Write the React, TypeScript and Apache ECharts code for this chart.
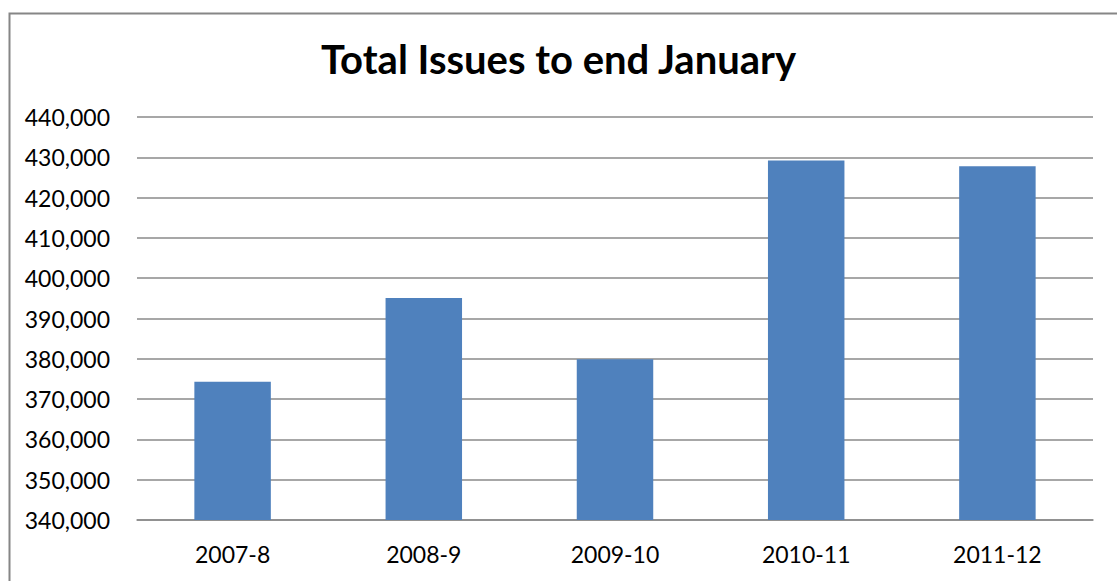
import React, { useEffect, useRef } from "react";
import * as echarts from "echarts";

const categories = ["2007-8", "2008-9", "2009-10", "2010-11", "2011-12"];
const totalIssues = [374300, 395100, 379900, 429200, 427750];
const yMin = 340000;
const yMax = 440000;
const yStep = 10000;
const titleText = "Total Issues to end January";

export default function App() {
  const ref = useRef<HTMLDivElement>(null);
  useEffect(() => {
    if (!ref.current) return;
    const chart = echarts.init(ref.current, undefined, { renderer: "svg" });
    chart.setOption({
      animation: false,
      backgroundColor: "#ffffff",
      textStyle: { fontFamily: "Lato" },
      graphic: [
        {
          type: "rect",
          left: 7,
          top: 11,
          shape: { x: 0, y: 0, width: 1200, height: 700 },
          style: { fill: "none", stroke: "#868686", lineWidth: 2 },
          silent: true,
          z: -1,
        },
      ],
      title: {
        text: titleText,
        left: "center",
        top: 34,
        textStyle: { fontFamily: "Lato", fontWeight: "bold", fontSize: 40, color: "#000000" },
      },
      grid: { left: 137, right: 24, top: 117, bottom: 61 },
      xAxis: {
        type: "category",
        data: categories,
        axisLine: { show: true, lineStyle: { color: "#8a8a8a", width: 1.5 } },
        axisTick: { show: false },
        axisLabel: { color: "#000000", fontSize: 23, margin: 22, fontFamily: "Lato" },
      },
      yAxis: {
        type: "value",
        min: yMin,
        max: yMax,
        interval: yStep,
        axisLine: { show: false },
        axisTick: { show: false },
        splitLine: { show: true, lineStyle: { color: "#8a8a8a", width: 1.5 } },
        axisLabel: {
          color: "#000000",
          fontSize: 23,
          margin: 27,
          fontFamily: "Lato",
          formatter: (v: number) => v.toLocaleString("en-US"),
        },
      },
      series: [
        {
          type: "bar",
          data: totalIssues,
          barWidth: "40%",
          itemStyle: { color: "#4F81BD" },
        },
      ],
    });
    return () => chart.dispose();
  }, []);
  return (
    <div
      ref={ref}
      style={{ position: "absolute", left: 0, top: 0, width: 1117, height: 581, overflow: "hidden" }}
    />
  );
}
